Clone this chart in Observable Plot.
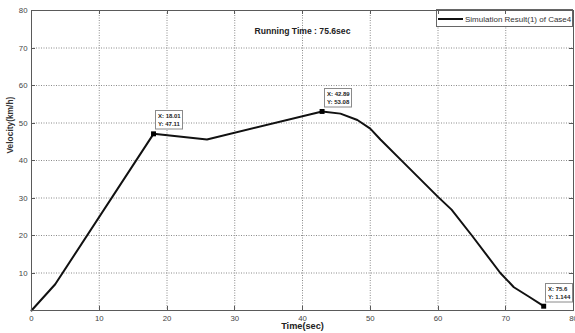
<!DOCTYPE html>
<html>
<head>
<meta charset="utf-8">
<script src="https://cdn.jsdelivr.net/npm/d3@7"></script>
<script src="https://cdn.jsdelivr.net/npm/@observablehq/plot@0.6"></script>
<style>
  html, body { margin: 0; padding: 0; background: #fff; }
  #chart svg { display: block; }
</style>
</head>
<body>
<div id="chart"></div>
<script>
// Velocity profile of the simulated run (time in s, velocity in km/h)
const time     = [0, 3.5, 18.01, 25.9, 42.89, 45.6, 48.1, 50.0, 51.5, 55.0, 60.0, 62.0, 65.0, 69.2, 71.2, 73.5, 75.6];
const velocity = [0, 7.0, 47.11, 45.6, 53.08, 52.5, 50.8, 48.5, 45.6, 39.3, 30.3, 26.9, 20.0, 10.0, 6.2, 3.6, 1.144];

// Data cursors placed on the curve
const markTime     = [18.01, 42.89, 75.6];
const markVelocity = [47.11, 53.08, 1.144];

// Axis ticks
const xTicks = [0, 10, 20, 30, 40, 50, 60, 70, 80];
const yTicks = [10, 20, 30, 40, 50, 60, 70, 80];
const gridX  = [10, 20, 30, 40, 50, 60, 70];
const gridY  = [10, 20, 30, 40, 50, 60, 70];

const titleText  = "Running Time : 75.6sec";
const seriesName = "Simulation Result(1) of Case4";
const xLabel = "Time(sec)";
const yLabel = "Velocity(km/h)";

const axisColor = "#5a5a5a";
const font = "'Liberation Sans', Arial, sans-serif";

const curve = time.map((t, i) => ({t, v: velocity[i]}));
const cursors = markTime.map((t, i) => ({t, v: markVelocity[i]}));

// Inward tick marks on all four sides of the box
function insideTicks(index, scales, values, dimensions) {
  const {x, y} = scales;
  const {width, height, marginLeft, marginRight, marginTop, marginBottom} = dimensions;
  const left = marginLeft, right = width - marginRight;
  const top = marginTop, bottom = height - marginBottom;
  const len = 4;
  const g = d3.create("svg:g").attr("stroke", axisColor).attr("stroke-width", 1);
  for (const t of xTicks) {
    const px = Math.round(x(t)) + 0.5;
    g.append("line").attr("x1", px).attr("x2", px).attr("y1", bottom).attr("y2", bottom - len);
    g.append("line").attr("x1", px).attr("x2", px).attr("y1", top).attr("y2", top + len);
  }
  for (const t of yTicks) {
    const py = Math.round(y(t)) + 0.5;
    g.append("line").attr("y1", py).attr("y2", py).attr("x1", left).attr("x2", left + len);
    g.append("line").attr("y1", py).attr("y2", py).attr("x1", right).attr("x2", right - len);
  }
  return g.node();
}

// Data tip boxes showing the cursor coordinates
function dataTips(index, scales) {
  const {x, y} = scales;
  const g = d3.create("svg:g")
    .attr("font-family", font).attr("font-size", 6).attr("font-weight", "bold")
    .attr("text-anchor", "start");
  cursors.forEach(d => {
    const px = x(d.t), py = y(d.v);
    const bx = Math.round(px + 2) + 0.5, by = Math.round(py - 23) + 0.5;
    g.append("rect").attr("x", bx).attr("y", by).attr("width", 27).attr("height", 18.5)
      .attr("fill", "#fff").attr("stroke", "#8a8a8a").attr("stroke-width", 1);
    g.append("text").attr("x", bx + 2.5).attr("y", by + 7).attr("fill", "#222").text("X: " + String(d.t));
    g.append("text").attr("x", bx + 2.5).attr("y", by + 15).attr("fill", "#222").text("Y: " + String(d.v));
  });
  return g.node();
}

// Legend box in the top right corner of the axes
function legend(index, scales, values, dimensions) {
  const {width, marginRight, marginTop} = dimensions;
  const right = width - marginRight;
  const g = d3.create("svg:g").attr("font-family", font).attr("text-anchor", "start");
  g.append("rect").attr("x", right - 136.5).attr("y", marginTop - 0.5).attr("width", 136).attr("height", 17)
    .attr("fill", "#fff").attr("stroke", "#666").attr("stroke-width", 1);
  g.append("line").attr("x1", right - 135).attr("x2", right - 110).attr("y1", marginTop + 9).attr("y2", marginTop + 9)
    .attr("stroke", "#111").attr("stroke-width", 2);
  g.append("text").attr("x", right - 108).attr("y", marginTop + 12).attr("font-size", 8).attr("fill", "#333")
    .text(seriesName);
  return g.node();
}

const chart = Plot.plot({
  width: 575,
  height: 333,
  marginLeft: 31,
  marginRight: 2,
  marginTop: 10,
  marginBottom: 23,
  style: {fontFamily: font, background: "#fff", overflow: "hidden"},
  x: {domain: [0, 80]},
  y: {domain: [0, 80]},
  marks: [
    Plot.gridX(gridX, {stroke: "#8a8a8a", strokeOpacity: 1, strokeDasharray: "1,1.5"}),
    Plot.gridY(gridY, {stroke: "#8a8a8a", strokeOpacity: 1, strokeDasharray: "1,1.5"}),
    Plot.axisX(xTicks, {tickSize: 0, tickPadding: 4.5, fontSize: 7.8, color: "#444", label: null}),
    Plot.axisY(yTicks, {tickSize: 0, tickPadding: 4, fontSize: 7.8, color: "#444", label: null}),
    Plot.line(curve, {x: "t", y: "v", stroke: "#111", strokeWidth: 2, curve: "linear"}),
    Plot.dot(cursors, {x: "t", y: "v", symbol: "square", r: 2.8, fill: "#000", stroke: null}),
    dataTips,
    legend,
    Plot.text([titleText], {frameAnchor: "top", dy: 17, fontSize: 8.6, fontWeight: "bold", fill: "#222"}),
    Plot.text([xLabel], {frameAnchor: "bottom", dy: 18.5, fontSize: 9.2, fontWeight: "bold", fill: "#222"}),
    Plot.text([yLabel], {frameAnchor: "left", rotate: -90, dx: -21, dy: -7, fontSize: 8.4, fontWeight: "bold", fill: "#333"}),
    insideTicks,
    Plot.frame({stroke: axisColor, strokeWidth: 1})
  ]
});

document.getElementById("chart").appendChild(chart);
</script>
</body>
</html>
